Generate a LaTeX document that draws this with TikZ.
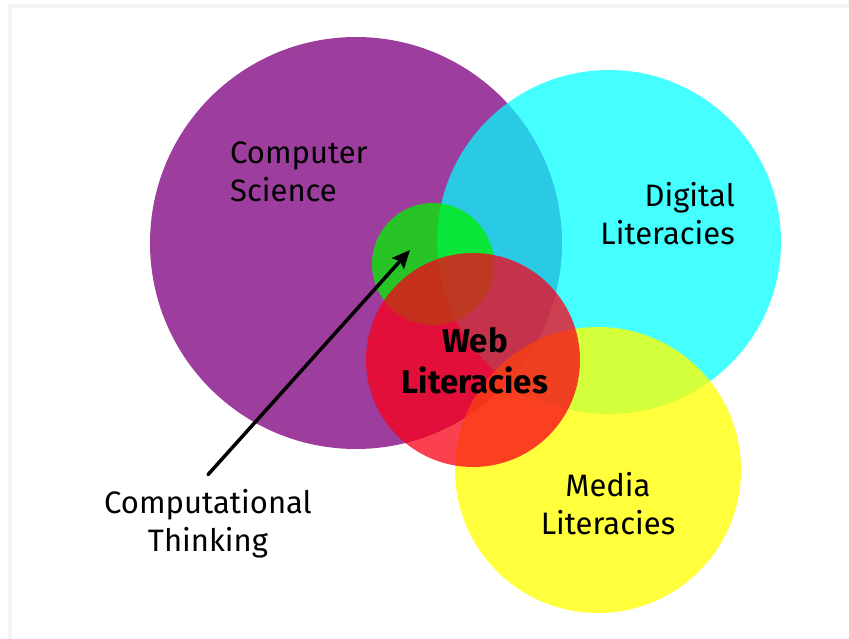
\documentclass[tikz,border=0pt]{standalone}
\usepackage{fontspec}
\setmainfont{Fira Sans}
\usepackage{tikz}
\tikzset{>=latex}
\usetikzlibrary{shapes,arrows,arrows.meta}
\definecolor{frameGray}{RGB}{244,244,244}
\definecolor{csPurple}{RGB}{157,62,158}
\definecolor{dlCyan}{RGB}{0,255,255}
\definecolor{mlYellow}{RGB}{255,255,0}
\definecolor{ctGreen}{RGB}{0,240,0}
\definecolor{wlRed}{RGB}{250,0,25}
\tikzset{
  venn/.style={circle, inner sep=0pt, draw=none},
  lbl/.style={inner sep=0pt, text=black, font=\fontsize{31}{38}\selectfont},
  lblbold/.style={inner sep=0pt, text=black, font=\fontsize{33}{41}\selectfont\bfseries},
}

\begin{document}
\begin{tikzpicture}[line cap=round,line join=round,>={Stealth[length=18pt,width=16pt,inset=3pt]},x=1pt,y=-1pt]
		\useasboundingbox (0,0) rectangle (849,639);
		\fill[frameGray] (8,4) rectangle (849,639);
		\fill[white] (12,8) rectangle (849,639);
		% the five circles
		\node[venn, minimum size=412pt, fill=csPurple] (cs) at (356,243) {};
		\node[venn, minimum size=344pt, fill=dlCyan, fill opacity=.73] (dl) at (609,242) {};
		\node[venn, minimum size=286pt, fill=mlYellow, fill opacity=.77] (ml) at (598,470) {};
		\node[venn, minimum size=122pt, fill=ctGreen, fill opacity=.75] (ct) at (433,264) {};
		\node[venn, minimum size=214pt, fill=wlRed, fill opacity=.75] (wl) at (473,360) {};
		% labels (base = last line)
		\node[lbl, anchor=base west, align=left] (csLabel) at (230,202) {Computer\\Science};
		\node[lbl, anchor=base east, align=right] (dlLabel) at (735,245) {Digital\\Literacies};
		\node[lbl, anchor=base, align=center] (mlLabel) at (608,534) {Media\\Literacies};
		\node[lblbold, anchor=base, align=center] (wlLabel) at (475,393) {Web\\Literacies};
		\node[lbl, anchor=base, align=center] (ctLabel) at (208,551) {Computational\\Thinking};
		% arrow into the green circle
		\coordinate (ctTip) at (410,250);
		\draw[->, line width=3.5pt] ([yshift=14pt]ctLabel.north) -- (ctTip);
\end{tikzpicture}
\end{document}
